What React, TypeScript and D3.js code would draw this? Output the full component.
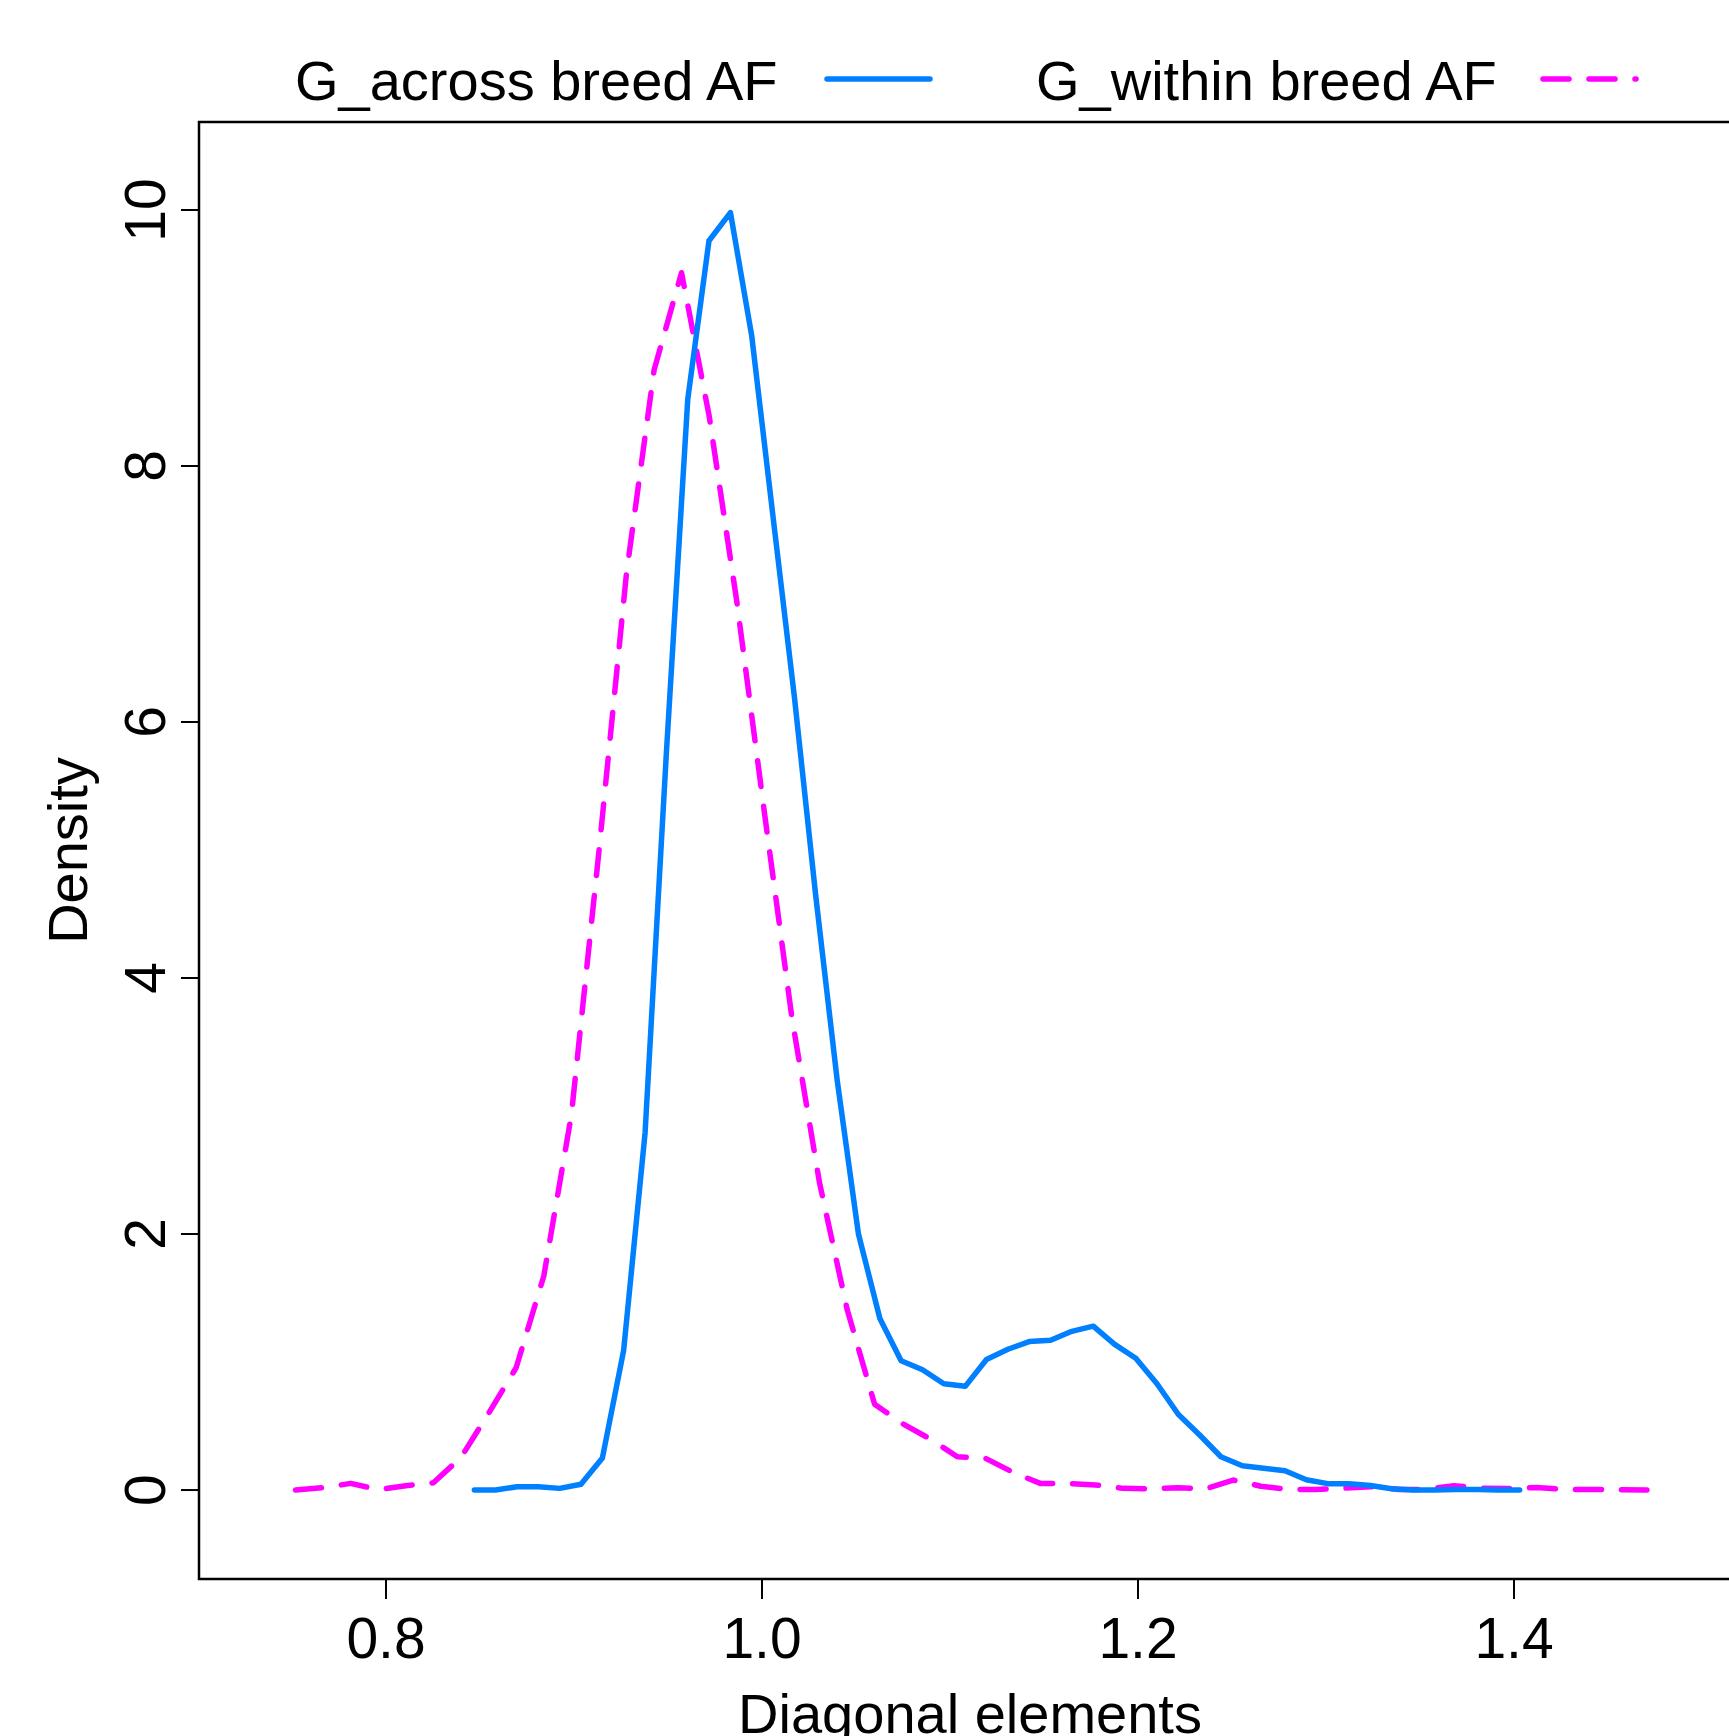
import React from 'react';
import * as d3 from 'd3';

// density of diagonal elements, G built with across-breed allele frequencies
const acrossX = [
  0.8470, 0.8583, 0.8697, 0.8810, 0.8924, 0.9037, 0.9151, 0.9264, 0.9378, 0.9491,
  0.9605, 0.9718, 0.9832, 0.9945, 1.0059, 1.0172, 1.0286, 1.0400, 1.0513, 1.0627,
  1.0740, 1.0854, 1.0967, 1.1081, 1.1194, 1.1308, 1.1421, 1.1535, 1.1648, 1.1762,
  1.1874, 1.1988, 1.2101, 1.2215, 1.2328, 1.2441, 1.2555, 1.2668, 1.2782, 1.2895,
  1.3009, 1.3122, 1.3236, 1.3349, 1.3462, 1.3576, 1.3689, 1.3803, 1.3916, 1.4030,
];
const acrossDensity = [
  0, 0, 0.026, 0.026, 0.013, 0.045, 0.25, 1.09, 2.79, 5.75,
  8.52, 9.76, 9.98, 9.02, 7.60, 6.2, 4.64, 3.20, 2.0, 1.34,
  1.01, 0.94, 0.83, 0.81, 1.02, 1.10, 1.16, 1.17, 1.24, 1.28,
  1.14, 1.03, 0.83, 0.59, 0.43, 0.26, 0.19, 0.17, 0.15, 0.08,
  0.05, 0.05, 0.035, 0.01, 0, 0, 0.005, 0.005, 0, 0,
];

// same, G built with within-breed allele frequencies
const withinX = [
  0.7519, 0.7665, 0.7812, 0.7959, 0.8105, 0.8252, 0.8399, 0.8546, 0.8692, 0.8839,
  0.8986, 0.9132, 0.9279, 0.9426, 0.9572, 0.9719, 0.9866, 1.0013, 1.0159, 1.0306,
  1.0453, 1.0599, 1.0746, 1.0893, 1.1039, 1.1186, 1.1333, 1.1480, 1.1626, 1.1773,
  1.1920, 1.2066, 1.2213, 1.2360, 1.2506, 1.2653, 1.2800, 1.2946, 1.3093, 1.3240,
  1.3387, 1.3533, 1.3680, 1.3827, 1.3973, 1.4120, 1.4267, 1.4413, 1.4560, 1.4707,
];
const withinDensity = [
  0, 0.018, 0.052, 0.003, 0.033, 0.057, 0.255, 0.60, 0.955, 1.67,
  2.93, 4.98, 7.16, 8.75, 9.51, 8.39, 6.94, 5.29, 3.69, 2.40,
  1.41, 0.67, 0.52, 0.40, 0.26, 0.25, 0.14, 0.052, 0.052, 0.04,
  0.013, 0.01, 0.018, 0.01, 0.078, 0.03, 0.005, 0.005, 0.015, 0.026,
  0.005, 0.005, 0.034, 0.015, 0.012, 0.02, 0.005, 0.005, 0.003, 0,
];

const xTicks = [0.8, 1.0, 1.2, 1.4];
const yTicks = [0, 2, 4, 6, 8, 10];
const legendLabels = ['G_across breed AF', 'G_within breed AF'];
const xTitle = 'Diagonal elements';
const yTitle = 'Density';

const W = 1729;
const H = 1736;
const FONT = '"Liberation Sans", Arial, Helvetica, sans-serif';
const BLUE = '#0080FF';
const MAGENTA = '#FF00FF';
const LW = 5.5;
const DASH = '26 20';

const plot = { left: 199, right: 1741, top: 122, bottom: 1579 };

const App = () => {
  const x = d3.scaleLinear().domain([0.70053, 1.52074]).range([plot.left, plot.right]);
  const y = d3.scaleLinear().domain([-0.695, 10.6875]).range([plot.bottom, plot.top]);

  const line = d3.line<[number, number]>()
    .x(d => x(d[0]))
    .y(d => y(d[1]));

  const acrossPath = line(acrossX.map((v, i) => [v, acrossDensity[i]]));
  const withinPath = line(withinX.map((v, i) => [v, withinDensity[i]]));

  const midX = (plot.left + plot.right) / 2;
  const midY = (plot.top + plot.bottom) / 2;

  return (
    <svg
      width={W}
      height={H}
      style={{ position: 'absolute', left: 0, top: 0, display: 'block', background: '#fff' }}
      fontFamily={FONT}
    >
      <rect x={0} y={0} width={W} height={H} fill="#fff" />

      {/* legend */}
      <text x={295} y={100} fontSize={56}>{legendLabels[0]}</text>
      <line x1={827} x2={930} y1={79} y2={79} stroke={BLUE} strokeWidth={LW} strokeLinecap="round" />
      <text x={1036} y={100} fontSize={56}>{legendLabels[1]}</text>
      <line x1={1543} x2={1636} y1={79} y2={79} stroke={MAGENTA} strokeWidth={LW}
        strokeLinecap="round" strokeDasharray={DASH} />

      {/* curves */}
      <path d={withinPath || ''} fill="none" stroke={MAGENTA} strokeWidth={LW}
        strokeLinecap="round" strokeLinejoin="round" strokeDasharray={DASH} />
      <path d={acrossPath || ''} fill="none" stroke={BLUE} strokeWidth={LW}
        strokeLinecap="round" strokeLinejoin="round" />

      {/* box */}
      <rect x={plot.left} y={plot.top} width={plot.right - plot.left} height={plot.bottom - plot.top}
        fill="none" stroke="#000" strokeWidth={2.5} />

      {/* x axis */}
      {xTicks.map(t => (
        <g key={t}>
          <line x1={x(t)} x2={x(t)} y1={plot.bottom} y2={plot.bottom + 20} stroke="#000" strokeWidth={2} />
          <text x={x(t)} y={1658} fontSize={57} textAnchor="middle">{t.toFixed(1)}</text>
        </g>
      ))}
      <text x={midX} y={1733} fontSize={56} textAnchor="middle">{xTitle}</text>

      {/* y axis */}
      {yTicks.map(t => (
        <g key={t}>
          <line x1={plot.left - 18} x2={plot.left} y1={y(t)} y2={y(t)} stroke="#000" strokeWidth={2} />
          <text transform={`translate(165,${y(t)}) rotate(-90)`} fontSize={57} textAnchor="middle">{t}</text>
        </g>
      ))}
      <text transform={`translate(87,${midY}) rotate(-90)`} fontSize={56} textAnchor="middle">{yTitle}</text>
    </svg>
  );
};

export default App;
